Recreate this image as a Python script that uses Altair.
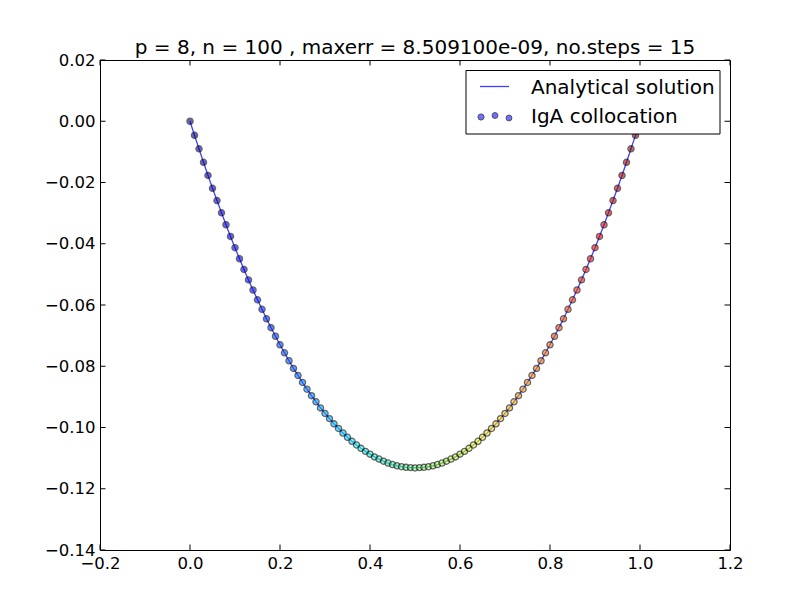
import altair as alt
import pandas as pd

# collocation points / analytical solution
x_vals = [
    0.00, 0.01, 0.02, 0.03, 0.04, 0.05, 0.06, 0.07, 0.08, 0.09,
    0.10, 0.11, 0.12, 0.13, 0.14, 0.15, 0.16, 0.17, 0.18, 0.19,
    0.20, 0.21, 0.22, 0.23, 0.24, 0.25, 0.26, 0.27, 0.28, 0.29,
    0.30, 0.31, 0.32, 0.33, 0.34, 0.35, 0.36, 0.37, 0.38, 0.39,
    0.40, 0.41, 0.42, 0.43, 0.44, 0.45, 0.46, 0.47, 0.48, 0.49,
    0.50, 0.51, 0.52, 0.53, 0.54, 0.55, 0.56, 0.57, 0.58, 0.59,
    0.60, 0.61, 0.62, 0.63, 0.64, 0.65, 0.66, 0.67, 0.68, 0.69,
    0.70, 0.71, 0.72, 0.73, 0.74, 0.75, 0.76, 0.77, 0.78, 0.79,
    0.80, 0.81, 0.82, 0.83, 0.84, 0.85, 0.86, 0.87, 0.88, 0.89,
    0.90, 0.91, 0.92, 0.93, 0.94, 0.95, 0.96, 0.97, 0.98, 0.99,
    1.00,
]
y_vals = [
    0.0000, -0.0046, -0.0090, -0.0134, -0.0177, -0.0219, -0.0259, -0.0299, -0.0338, -0.0376,
    -0.0413, -0.0449, -0.0484, -0.0518, -0.0551, -0.0583, -0.0614, -0.0645, -0.0674, -0.0702,
    -0.0730, -0.0756, -0.0782, -0.0807, -0.0830, -0.0853, -0.0875, -0.0896, -0.0916, -0.0936,
    -0.0954, -0.0971, -0.0988, -0.1003, -0.1018, -0.1032, -0.1045, -0.1057, -0.1068, -0.1078,
    -0.1087, -0.1096, -0.1103, -0.1110, -0.1116, -0.1121, -0.1125, -0.1128, -0.1130, -0.1131,
    -0.1132,
    -0.1131, -0.1130, -0.1128, -0.1125, -0.1121, -0.1116, -0.1110, -0.1103, -0.1096, -0.1087,
    -0.1078, -0.1068, -0.1057, -0.1045, -0.1032, -0.1018, -0.1003, -0.0988, -0.0971, -0.0954,
    -0.0936, -0.0916, -0.0896, -0.0875, -0.0853, -0.0830, -0.0807, -0.0782, -0.0756, -0.0730,
    -0.0702, -0.0674, -0.0645, -0.0614, -0.0583, -0.0551, -0.0518, -0.0484, -0.0449, -0.0413,
    -0.0376, -0.0338, -0.0299, -0.0259, -0.0219, -0.0177, -0.0134, -0.0090, -0.0046, 0.0000,
]

x_ticks = [-0.2, 0.0, 0.2, 0.4, 0.6, 0.8, 1.0, 1.2]
y_ticks = [0.02, 0.00, -0.02, -0.04, -0.06, -0.08, -0.10, -0.12, -0.14]

title_text = "p = 8, n = 100 , maxerr = 8.509100e-09, no.steps = 15"
legend_labels = ["Analytical solution", "IgA collocation"]

# matplotlib "jet" colour stops
jet_stops = [0.0, 0.11, 0.125, 0.34, 0.375, 0.64, 0.66, 0.89, 0.91, 1.0]
jet_colors = ["#000080", "#0000ff", "#0000ff", "#00dbff", "#14ffe2",
              "#eeff08", "#ffec00", "#ff1300", "#f30000", "#800000"]

W, H = 630, 490
FONT = "DejaVu Sans"

df = pd.DataFrame({"x": x_vals, "y": y_vals})
xt = pd.DataFrame({"t": x_ticks})
yt = pd.DataFrame({"t": y_ticks})

xs = alt.Scale(domain=[-0.2, 1.2], nice=False, zero=False)
ys = alt.Scale(domain=[-0.14, 0.02], nice=False, zero=False)

X = alt.X("x:Q", scale=xs, axis=alt.Axis(
    values=x_ticks, format=".1f", title=None, ticks=False, tickSize=0,
    domain=False, grid=False, labelPadding=5, labelFont=FONT,
    labelFontSize=16.5, labelColor="black", labelFlush=False, labelOverlap=False))
Y = alt.Y("y:Q", scale=ys, axis=alt.Axis(
    values=y_ticks, format=".2f", title=None, ticks=False, tickSize=0,
    domain=False, grid=False, labelPadding=5, labelFont=FONT,
    labelFontSize=16.5, labelColor="black", labelFlush=False, labelOverlap=False))

base = alt.Chart(df)

points = base.mark_circle(size=38, opacity=0.6, stroke="black", strokeWidth=1.3).encode(
    x=X, y=Y,
    color=alt.Color("x:Q", scale=alt.Scale(domain=jet_stops, range=jet_colors,
                                           interpolate="rgb"), legend=None),
)

line = base.mark_line(color="#0000ff", strokeWidth=1.3, opacity=0.75).encode(
    x=alt.X("x:Q", scale=xs), y=alt.Y("y:Q", scale=ys))

# inward ticks on all four sides
tick_len = 5.5
xb = alt.Chart(xt).mark_rule(color="black").encode(
    x=alt.X("t:Q", scale=xs), y=alt.value(H), y2=alt.value(H - tick_len))
xtp = alt.Chart(xt).mark_rule(color="black").encode(
    x=alt.X("t:Q", scale=xs), y=alt.value(0), y2=alt.value(tick_len))
yl = alt.Chart(yt).mark_rule(color="black").encode(
    y=alt.Y("t:Q", scale=ys), x=alt.value(0), x2=alt.value(tick_len))
yr = alt.Chart(yt).mark_rule(color="black").encode(
    y=alt.Y("t:Q", scale=ys), x=alt.value(W), x2=alt.value(W - tick_len))

# legend box
leg_df = pd.DataFrame({"a": [0]})
leg = alt.Chart(leg_df)
box = leg.mark_rect(fill="white", stroke="black", strokeWidth=1).encode(
    x=alt.value(366), x2=alt.value(620), y=alt.value(10.5), y2=alt.value(74))
leg_line = leg.mark_rule(color="#4040ff", strokeWidth=1.3).encode(
    x=alt.value(380), x2=alt.value(409), y=alt.value(26.5))
leg_t1 = leg.mark_text(align="left", baseline="alphabetic", font=FONT,
                       fontSize=20, color="black", text=legend_labels[0]).encode(
    x=alt.value(431), y=alt.value(33.5))
leg_t2 = leg.mark_text(align="left", baseline="alphabetic", font=FONT,
                       fontSize=20, color="black", text=legend_labels[1]).encode(
    x=alt.value(431), y=alt.value(63))
dot_style = dict(fill="#7070ff", stroke="#505070", strokeWidth=1, opacity=1)
d1 = leg.mark_circle(size=38, **dot_style).encode(x=alt.value(381), y=alt.value(57))
d2 = leg.mark_circle(size=34, **dot_style).encode(x=alt.value(395), y=alt.value(55.5))
d3 = leg.mark_circle(size=34, **dot_style).encode(x=alt.value(409), y=alt.value(58))

chart = alt.layer(
    line, points, xb, xtp, yl, yr, box, leg_line, leg_t1, leg_t2, d1, d2, d3
).properties(
    width=W, height=H,
    title=alt.TitleParams(title_text, font=FONT, fontSize=20, fontWeight="normal",
                          color="black", anchor="middle", offset=6, dy=11.5),
    autosize=alt.AutoSizeParams(type="none"),
    padding={"left": 92, "top": 52, "right": 70, "bottom": 50},
    background="white",
).configure_view(
    stroke="black", strokeWidth=1
)

chart.save("out.html", embed_options={"renderer": "svg", "actions": False})
